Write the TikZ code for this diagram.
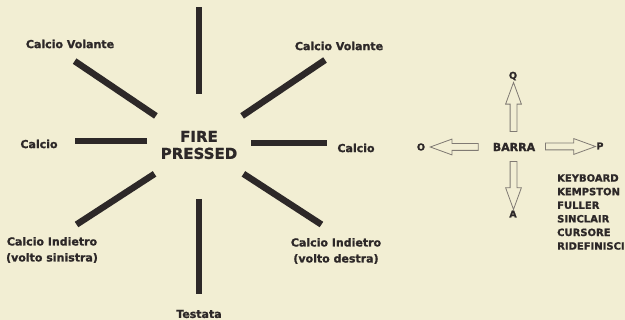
\documentclass[tikz,border=0pt]{standalone}
\usepackage{fontspec}
\setmainfont{DejaVu Sans}[BoldFeatures={FakeBold=1.2}]
\usetikzlibrary{shapes.arrows,calc}
\definecolor{paper}{RGB}{242,238,211}
\definecolor{ink}{RGB}{45,40,40}
\definecolor{arrowline}{RGB}{128,122,115}

\begin{document}
\begin{tikzpicture}[x=1pt,y=1pt,
	lbl/.style={font=\bfseries\fontsize{11}{16}\selectfont, text=ink, align=center, inner sep=0pt},
	key/.style={lbl, font=\bfseries\fontsize{9.5}{11}\selectfont},
	bar/.style={draw=ink, line width=6.5pt},
	hollow/.style={single arrow, draw=arrowline, fill=paper, line width=0.8pt, single arrow tip angle=40, single arrow head extend=4.5pt, minimum width=15pt, inner sep=3pt}]
	\fill[paper] (0,0) rectangle (625,320);
	\useasboundingbox (0,0) rectangle (625,320);
	% the star
	\node[lbl, font=\bfseries\fontsize{15}{17}\selectfont] (fire) at (199,175) {FIRE\\PRESSED};
	\foreach \a/\r/\R/\dy in {90/51/138/0, 270/54/149/0, 180/52/124/4, 0/52/128/2, 146/52/150/0, 34/52/152/0, 213/53/146/0, -33/53/146/0}
		\draw[bar] ($(fire)+(\a:\r)+(0,\dy)$) -- ($(fire)+(\a:\R)+(0,\dy)$);
	\node[lbl] (volanteL) at (70,276) {Calcio Volante};
	\node[lbl] (volanteR) at (339,274) {Calcio Volante};
	\node[lbl] (calcioL) at (39,176) {Calcio};
	\node[lbl] (calcioR) at (356,172) {Calcio};
	\node[lbl] (indietroL) at (52,70) {Calcio Indietro\\(volto sinistra)};
	\node[lbl] (indietroR) at (336,69) {Calcio Indietro\\(volto destra)};
	\node[lbl] (testata) at (199,6) {Testata};
	% the keys
	\node[lbl] (barra) at (514,173) {BARRA};
	\node[key] (o) at (421,173) {O};
	\node[key] (p) at (600,174) {P};
	\node[key] (q) at (513,244) {Q};
	\node[key] (a) at (513,106) {A};
	\node[hollow, minimum height=48pt, rotate=180] (toO) at ($(barra.west)!0.5!(o.east)$) {};
	\node[hollow, minimum height=50pt] (toP) at ($(barra.east)!0.5!(p.west)$) {};
	\node[hollow, minimum height=49pt, rotate=90] (toQ) at ($(barra.north)!0.5!(q.south)$) {};
	\node[hollow, minimum height=48pt, rotate=-90] (toA) at ($(barra.south)!0.5!(a.north)$) {};
	\node[lbl, font=\bfseries\fontsize{10}{13.6}\selectfont, align=left, anchor=north west] (ports) at (557,146) {KEYBOARD\\KEMPSTON\\FULLER\\SINCLAIR\\CURSORE\\RIDEFINISCI};
\end{tikzpicture}
\end{document}
